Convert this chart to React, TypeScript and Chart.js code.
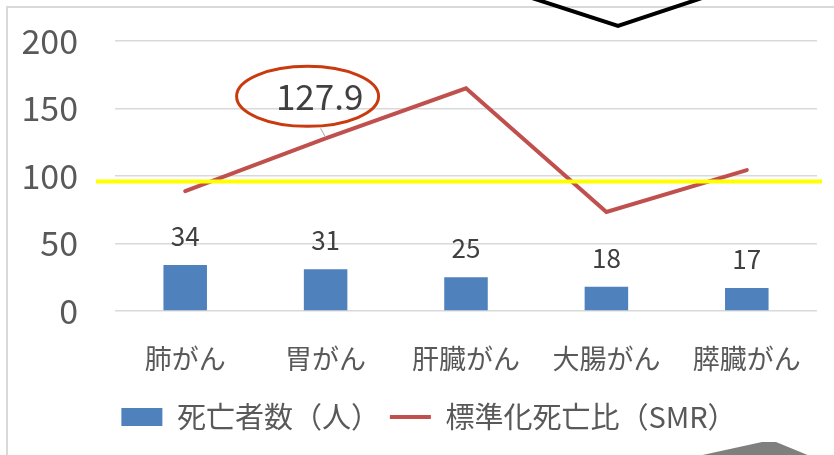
import React, { useEffect, useRef } from 'react';
import { Chart, registerables } from 'chart.js';

Chart.register(...registerables);

const categories = ['肺がん', '胃がん', '肝臓がん', '大腸がん', '膵臓がん'];
const deaths = [34, 31, 25, 18, 17];
const smr = [88.8, 127.9, 165, 73.4, 104.4];
const yTicks = [0, 50, 100, 150, 200];
const referenceLine = 96;
const highlightIndex = 1;
const seriesNames = ['死亡者数（人）', '標準化死亡比（SMR）'];

const FONT = '"Noto Sans CJK JP", "Noto Sans", sans-serif';
const LEGEND_SHIFT = 36;

const decor = {
  id: 'decor',
  afterLayout(chart: any) {
    if (chart.legend) chart.legend.left += LEGEND_SHIFT;
  },
  beforeDraw(chart: any) {
    const ctx = chart.ctx;
    ctx.save();
    ctx.fillStyle = '#ffffff';
    ctx.fillRect(0, 0, chart.width, chart.height);
    ctx.strokeStyle = '#d9d9d9';
    ctx.lineWidth = 2;
    ctx.beginPath();
    ctx.moveTo(7, chart.height);
    ctx.lineTo(7, 7);
    ctx.lineTo(chart.width, 7);
    ctx.stroke();
    ctx.restore();
  },
  afterDatasetsDraw(chart: any) {
    const ctx = chart.ctx;
    const area = chart.chartArea;
    ctx.save();
    // bar value labels
    const bars = chart.getDatasetMeta(0).data;
    ctx.font = `26px ${FONT}`;
    ctx.fillStyle = '#404040';
    ctx.textAlign = 'center';
    ctx.textBaseline = 'middle';
    bars.forEach((bar: any, i: number) => {
      ctx.fillText(String(deaths[i]), bar.x, bar.y - 29);
    });
    // highlighted line label
    const p = chart.getDatasetMeta(1).data[highlightIndex];
    ctx.strokeStyle = '#a6a6a6';
    ctx.lineWidth = 1;
    ctx.beginPath();
    ctx.moveTo(p.x - 5, p.y - 10);
    ctx.lineTo(p.x, p.y - 1);
    ctx.stroke();
    ctx.font = `35px ${FONT}`;
    ctx.fillStyle = '#404040';
    ctx.fillText(smr[highlightIndex].toFixed(1), p.x - 6, p.y - 42);
    ctx.strokeStyle = '#C93A0E';
    ctx.lineWidth = 3;
    ctx.beginPath();
    ctx.ellipse(p.x - 18, p.y - 42, 71, 30, 0, 0, Math.PI * 2);
    ctx.stroke();
    // reference line
    const y = chart.scales.y.getPixelForValue(referenceLine);
    ctx.strokeStyle = '#FFFF00';
    ctx.lineWidth = 4;
    ctx.beginPath();
    ctx.moveTo(area.left - 19, y);
    ctx.lineTo(area.right + 5, y);
    ctx.stroke();
    ctx.restore();
  },
  afterDraw(chart: any) {
    const ctx = chart.ctx;
    ctx.save();
    // partial chevron shape at top
    ctx.strokeStyle = '#000000';
    ctx.lineWidth = 4;
    ctx.lineJoin = 'miter';
    ctx.beginPath();
    ctx.moveTo(532, -2);
    ctx.lineTo(618, 26);
    ctx.lineTo(702, -2);
    ctx.stroke();
    // partial gray shape at bottom right
    ctx.fillStyle = '#7f7f7f';
    ctx.beginPath();
    ctx.moveTo(698, 456);
    ctx.lineTo(762, 442);
    ctx.lineTo(776, 442);
    ctx.lineTo(810, 456);
    ctx.closePath();
    ctx.fill();
    ctx.restore();
  },
};

export default function App() {
  const ref = useRef<HTMLCanvasElement | null>(null);
  useEffect(() => {
    if (!ref.current) return;
    const chart = new Chart(ref.current, {
      type: 'bar',
      data: {
        labels: categories,
        datasets: [
          {
            type: 'bar',
            label: seriesNames[0],
            data: deaths,
            backgroundColor: '#4F81BD',
            borderWidth: 0,
            categoryPercentage: 1,
            barPercentage: 0.31,
            order: 1,
            pointStyle: 'rect',
          } as any,
          {
            type: 'line',
            label: seriesNames[1],
            data: smr,
            borderColor: '#C0504D',
            backgroundColor: '#C0504D',
            borderWidth: 4,
            pointRadius: 0,
            borderCapStyle: 'round',
            tension: 0,
            order: 0,
            pointStyle: 'line',
          } as any,
        ],
      },
      options: {
        responsive: false,
        animation: false,
        layout: { padding: { left: 0, right: 12, top: 41, bottom: 13.5 } },
        plugins: {
          legend: {
            position: 'bottom',
            labels: {
              usePointStyle: true,
              pointStyleWidth: 41,
              boxHeight: 18,
              padding: 10,
              color: '#595959',
              font: { size: 29, family: FONT },
              sort: (a: any, b: any) => a.datasetIndex - b.datasetIndex,
            },
          },
          tooltip: { enabled: false },
        },
        scales: {
          x: {
            grid: { display: false, drawTicks: false },
            border: { display: false },
            ticks: { color: '#595959', font: { size: 27, family: FONT }, padding: 32 },
            afterFit: (s: any) => {
              s.height = 81.5;
            },
          },
          y: {
            min: 0,
            max: 200,
            grid: {
              color: '#d9d9d9',
              lineWidth: 1.5,
              drawTicks: true,
              tickLength: 37,
              tickColor: 'rgba(0,0,0,0)',
            },
            border: { display: false },
            ticks: { color: '#595959', font: { size: 34, family: FONT }, padding: 0 },
            afterBuildTicks: (s: any) => {
              s.ticks = yTicks.map((v) => ({ value: v }));
            },
            afterFit: (s: any) => {
              s.width = 115;
            },
          },
        },
      },
      plugins: [decor],
    });
    return () => chart.destroy();
  }, []);
  return (
    <div style={{ position: 'absolute', left: 0, top: 0, width: 834, height: 455 }}>
      <canvas ref={ref} width={834} height={455} style={{ width: 834, height: 455, display: 'block' }} />
    </div>
  );
}
